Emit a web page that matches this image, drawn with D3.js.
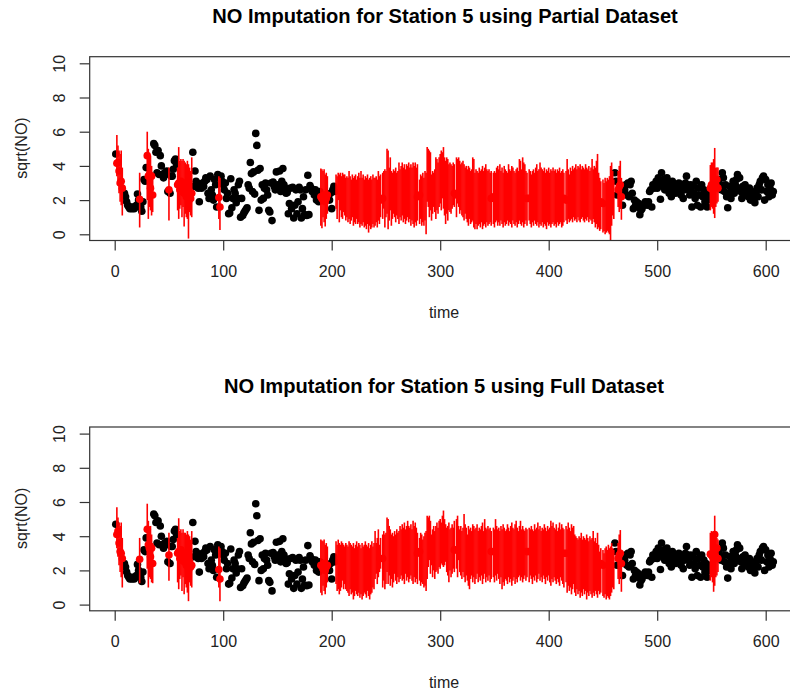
<!DOCTYPE html>
<html>
<head>
<meta charset="utf-8">
<script src="https://cdnjs.cloudflare.com/ajax/libs/d3/7.8.5/d3.min.js"></script>
<style>
    body { margin: 0; background: #fff; }
    svg { display: block; }
    text { font-family: "Liberation Sans", Arial, sans-serif; fill: #222; }
</style>
</head>
<body>
<div id="chart"></div>
<script>
// observed values, same in both panels
const obsTime = [1,9,10,11,12,13,14,15,16,17,18,19,20,21,22,24,25,26,27,28,29,36,37,38,39,40,41,42,43,44,45,46,47,48,49,
    51,52,53,54,55,56,57,72,73,74,75,76,77,78,79,80,81,82,83,84,85,86,87,88,89,90,91,92,93,94,95,98,99,
    100,101,102,103,104,105,106,107,108,109,110,111,112,113,114,115,116,117,118,119,120,121,122,123,124,125,126,127,128,129,
    130,131,132,133,134,135,136,137,138,139,140,141,142,143,144,145,146,147,148,149,150,151,152,153,154,155,156,157,158,159,
    160,161,162,163,164,165,166,167,168,169,170,171,172,173,174,175,176,177,178,179,180,181,182,183,184,185,186,187,188,189,
    197,198,199,200,201,202,203,461,462,463,468,469,470,471,472,473,474,475,476,477,478,479,480,481,482,483,484,485,486,487,488,489,
    490,491,492,493,494,495,496,497,498,499,500,501,502,503,504,505,506,507,508,509,510,511,512,513,514,515,516,517,518,519,
    520,521,522,523,524,525,526,527,528,529,530,531,532,533,534,535,536,537,538,539,540,541,542,543,544,545,546,547,548,
    557,558,559,560,561,562,563,564,565,566,567,568,569,570,571,572,573,574,575,576,577,578,579,
    580,581,582,583,584,585,586,587,588,589,590,591,592,593,594,595,596,597,598,599,600,601,602,603,604,605,606,607];
const obsValue = [4.7,2.4,2.2,1.9,1.7,1.6,1.5,1.6,1.5,1.6,1.5,1.6,1.7,2.35,2.0,1.6,1.35,1.9,3.2,3.1,3.9,5.3,5.2,4.8,3.6,4.9,3.5,4.6,4.0,3.5,3.3,3.6,3.5,3.7,2.5,
    2.4,3.4,3.4,3.8,4.3,4.4,4.1,4.8,2.8,3.7,3.1,3.0,2.7,1.9,2.9,2.7,3.0,2.8,3.1,3.3,3.2,2.4,2.1,3.4,2.6,2.3,2.0,3.2,2.9,1.6,3.5,3.4,3.1,
    2.9,2.6,3.0,2.1,2.4,1.2,1.25,3.25,1.55,2.1,2.6,2.4,1.85,2.1,2.9,3.1,1.0,2.1,1.1,1.25,1.35,1.45,1.55,2.9,2.7,4.2,3.55,2.5,3.65,2.35,
    5.9,5.2,3.75,1.4,3.85,2.0,2.9,2.1,2.7,3.0,2.6,2.3,1.4,1.3,3.0,0.8,3.05,2.8,2.6,3.65,2.9,2.65,3.7,2.5,3.1,3.85,2.9,2.7,2.4,2.45,
    1.2,1.8,2.7,1.5,2.75,0.95,1.7,2.6,1.2,1.9,2.75,2.6,0.95,1.5,2.2,1.15,2.6,1.1,3.45,1.15,2.85,2.7,2.5,2.6,2.3,2.6,2.0,2.2,1.9,2.5,
    2.3,2.0,2.4,1.5,2.6,2.8,2.5,3.6,3.1,2.3,1.7,2.5,2.6,2.9,2.3,3.0,2.2,2.9,3.1,2.4,1.5,2.0,1.7,1.9,1.6,1.8,1.15,1.4,1.5,1.7,1.7,1.9,
    1.8,1.7,1.9,2.5,2.6,1.6,2.9,2.7,2.85,3.1,2.7,3.3,3.0,2.05,3.6,2.8,3.2,2.6,3.0,3.3,2.7,2.4,2.9,2.2,3.1,2.6,2.9,2.4,2.8,2.5,
    3.0,2.7,2.3,2.8,2.1,2.6,3.0,3.4,2.9,2.6,2.3,2.9,1.6,2.8,2.4,2.1,3.1,1.7,2.7,2.3,1.6,2.9,2.2,2.6,1.9,2.4,1.6,2.0,2.3,
    3.2,2.9,2.6,3.6,3.3,2.5,2.9,2.2,1.55,2.4,2.8,2.1,2.6,3.1,2.4,2.9,3.2,3.5,2.7,3.3,2.5,2.1,2.8,
    2.4,2.9,2.3,2.6,2.2,2.7,2.0,2.5,2.1,2.3,1.85,2.4,2.7,2.2,2.9,3.1,2.6,3.3,3.4,2.0,3.2,2.5,2.9,2.2,2.7,3.0,2.3,2.5];

// sparse imputed runs, same times in both panels
const sparseTime = [2,3,4,5,6,7,23,30,31,32,33,34,35,50,58,59,60,61,62,63,64,65,66,67,68,69,70,71,96,97,
    190,191,192,193,194,195,196,464,465,466,467,549,550,551,552,553,554,555,556];
const sparseLowPartial = [3.4,2.9,2.4,1.9,1.7,1.1,0.4,2.0,0.9,1.6,1.4,1.1,1.3,0.8,1.4,0.9,1.5,1.7,1.0,1.6,0.45,1.2,1.0,0.9,-0.25,1.3,1.1,1.0,0.9,0.25,
    0.5,0.35,1.0,0.7,0.45,0.9,1.2,1.6,1.3,1.5,0.85,1.4,1.6,1.5,1.2,0.95,1.6,1.8,1.9];
const sparseHighPartial = [5.8,5.2,4.9,4.7,4.9,3.9,3.6,6.0,5.0,4.6,4.6,4.0,3.5,3.9,3.9,5.1,4.3,4.4,4.3,4.4,4.3,4.2,4.1,4.3,4.1,3.9,3.7,4.5,3.4,3.3,
    3.85,3.8,3.7,3.8,3.5,3.6,3.4,3.7,4.0,4.3,3.3,4.05,4.2,4.2,4.4,5.05,3.9,3.9,3.9];
const sparseLowFull = [3.3,2.8,2.3,1.9,1.6,1.0,1.25,2.1,1.0,1.6,1.5,1.3,1.25,1.4,1.3,0.9,1.5,1.7,0.8,1.6,0.6,1.2,1.0,0.7,0.2,1.3,1.1,1.0,1.0,0.2,
    0.7,0.55,1.1,0.8,0.6,1.0,1.3,1.5,1.2,1.6,0.75,1.4,1.6,1.3,0.75,1.1,1.6,1.7,1.9];
const sparseHighFull = [5.7,5.1,4.8,4.6,4.8,3.9,3.9,5.9,4.9,4.5,4.6,4.1,3.6,4.2,3.9,5.05,4.3,4.4,4.2,4.4,4.2,4.2,4.1,4.3,4.1,4.0,3.8,4.3,3.4,3.3,
    3.8,3.75,3.7,3.8,3.5,3.6,3.4,3.6,4.1,4.36,3.2,4.2,4.3,4.0,3.9,5.2,4.0,3.9,3.8];
const sparseDotPartial = [4.15,4.2,3.7,3.0,3.1,2.7,2.05,4.6,3.4,3.5,2.7,3.4,2.3,2.6,2.9,3.0,2.6,3.1,2.5,2.9,2.4,3.0,2.2,2.7,1.9,2.5,2.1,2.4,2.15,1.6,
    2.2,2.1,2.0,2.3,1.9,2.1,2.3,2.6,2.8,2.9,2.2,2.7,2.9,2.6,2.8,3.0,2.9,3.2,2.7];
const sparseDotFull = [4.1,4.3,3.6,3.1,3.0,2.7,2.65,4.4,3.5,3.3,2.8,3.3,2.4,2.9,3.0,3.1,2.7,3.2,2.6,3.0,2.5,2.9,2.3,2.6,2.0,2.5,2.2,2.3,2.05,1.5,
    2.3,2.25,2.1,2.4,2.0,2.2,2.3,2.7,2.9,3.0,2.4,2.95,2.9,2.8,3.0,4.1,2.8,3.3,2.7];

// long run of imputed times 204 to 460, null where the line is absent
const denseStart = 204;
const denseHighPartial = [3.5,3.4,3.6,3.5,3.6,3.4,3.6,3.5,3.5,3.3,
    3.4,3.3,3.7,3.4,3.2,3.5,3.3,3.4,3.5,3.2, 3.4,3.6,3.3,3.7,3.3,3.5,3.2,3.4,3.3,3.5,
    3.2,3.3,3.4,3.2,3.5,3.3,3.3,3.4,3.2,3.7, 3.4,3.5,null,3.6,3.7,3.8,3.7,5.0,4.9,3.9,
    4.5,3.7,3.6,3.8,3.7,3.9,3.6,3.7,4.2,3.8, 4.0,4.2,3.9,4.1,3.8,4.1,4.0,4.2,3.9,4.1,
    3.9,4.2,4.0,4.2,3.9,4.1,null,3.2,3.5,3.4, 3.6,3.3,3.7,3.6,5.1,5.0,4.9,4.8,3.5,3.7,
    3.6,3.8,4.5,4.4,4.2,4.5,4.7,4.9,4.8,5.1, 4.5,4.3,4.5,4.4,4.1,4.2,4.1,4.0,4.2,4.1,
    null,4.5,4.4,4.5,4.3,4.1,4.2,4.3,4.1,3.9, 4.0,3.8,4.0,3.9,3.7,3.8,4.5,4.4,3.6,3.8,
    3.7,3.6,3.9,3.7,3.8,4.0,3.7,3.9,4.1,3.8, 3.7,3.8,3.6,3.7,null,3.6,3.7,3.6,3.9,4.0,
    3.8,4.1,3.7,3.9,3.6,4.0,3.8,3.7,3.6,4.1, 3.8,3.7,4.0,3.9,3.7,3.6,3.8,3.9,3.7,4.4,
    4.3,3.8,4.5,4.2,4.1,3.7,3.6,null,3.8,3.7, 3.5,3.7,3.8,3.6,3.9,4.1,3.7,3.8,4.2,3.9,
    3.8,3.7,3.9,3.6,3.8,3.7,3.9,3.6,3.8,3.7, 3.9,3.7,3.8,3.6,3.8,3.7,3.9,3.6,3.7,3.8,
    3.6,null,3.7,4.4,3.8,3.5,3.9,3.7,4.0,3.8, 3.9,4.1,3.8,4.0,3.9,4.1,3.8,4.0,3.9,3.8,
    4.1,3.9,3.8,4.0,3.7,3.9,4.4,3.8,4.0,3.9, 4.3,4.7,3.6,3.3,3.1,null,3.2,3.0,3.3,3.1,
    3.3,3.2,3.4,4.0,4.2,3.7,3.2];
const denseLowPartial = [1.5,0.9,2.0,0.7,1.4,1.0,0.9,1.3,1.1,0.8,
    1.0,0.7,0.9,0.6,0.8,1.0,0.5,0.7,0.6,0.9, 0.6,0.7,0.4,0.6,0.5,0.7,0.4,0.5,0.3,0.6,
    0.1,0.5,0.3,0.4,0.6,0.4,0.5,0.7,0.4,0.8, 0.6,1.0,null,0.9,1.5,0.4,1.0,1.2,0.3,0.8,
    1.4,0.5,0.9,1.2,1.0,0.7,1.1,0.9,0.6,1.0, 0.8,1.1,0.7,0.9,0.6,0.8,1.0,0.7,0.9,0.5,
    0.8,0.6,0.4,0.7,0.5,0.8,null,0.6,0.9,0.5, 0.7,0.5,0.8,0.0,1.9,1.6,1.0,1.4,0.8,1.2,
    1.6,1.3,0.9,1.4,1.2,1.6,1.8,1.4,2.1,1.5, 1.1,0.6,1.2,0.8,1.4,1.3,1.2,1.5,1.7,1.6,
    null,1.0,1.8,1.6,1.2,1.4,1.1,1.0,0.8,1.2, 0.9,0.7,0.5,0.9,0.6,0.7,0.8,0.4,0.3,0.6,
    0.3,0.5,0.6,0.4,0.7,0.3,0.5,0.6,0.4,0.7, 0.5,0.6,0.7,0.5,null,0.6,0.4,0.7,0.8,0.5,
    0.7,0.5,0.8,0.6,0.4,0.7,0.5,0.6,0.8,0.5, 0.7,0.6,0.4,0.8,0.6,0.5,0.7,0.4,0.6,0.8,
    0.6,0.5,0.7,0.4,0.6,0.8,0.5,null,0.8,0.6, 0.4,0.7,0.5,0.8,0.6,0.5,0.7,0.4,0.6,0.5,
    0.7,0.4,0.6,0.5,0.3,0.7,0.5,0.6,0.4,0.6, 0.7,0.5,0.6,0.4,0.7,0.5,0.6,0.7,0.4,0.5,
    0.7,null,0.8,0.6,0.9,0.7,0.8,0.9,0.7,1.0, 0.8,0.9,0.7,1.0,0.8,0.7,0.9,1.0,0.8,0.7,
    0.9,0.8,1.0,0.7,0.9,0.8,0.6,0.9,0.7,0.4, 0.6,0.3,0.4,0.2,0.3,null,0.1,0.2,0.0,0.1,
    0.2,0.1,0.0,-0.35,0.5,1.1,0.9];
const denseHighFull = [3.7,3.5,3.8,3.6,3.5,3.7,3.6,3.5,3.4,3.6,
    3.5,3.4,3.7,3.6,3.5,3.4,3.6,3.3,3.5,3.7, 3.4,3.6,3.5,3.3,3.6,3.4,3.5,3.7,3.5,3.4,
    3.6,3.3,3.5,3.7,3.4,3.6,4.3,3.6,3.9,4.4, 3.5,3.9,null,4.1,4.3,4.1,4.2,5.1,5.0,4.6,
    4.4,4.1,4.2,4.0,4.3,4.1,4.4,4.2,4.3,4.6, 4.4,4.7,4.5,4.8,4.4,4.6,4.9,4.6,4.5,4.7,
    4.4,4.9,4.6,4.8,4.5,4.2,null,3.9,4.2,4.1, 3.8,4.0,4.2,4.3,5.2,5.1,5.2,4.9,4.1,4.4,
    4.6,4.3,4.6,4.8,4.5,4.9,5.0,4.8,5.2,5.5, 5.0,4.7,4.5,4.6,4.8,4.4,4.5,4.7,4.5,4.9,
    null,5.0,5.2,4.6,4.4,4.6,4.3,4.5,5.3,4.7, 4.5,4.1,4.6,4.4,4.5,4.3,4.7,4.6,4.4,4.5,
    4.7,4.3,4.5,4.4,4.6,4.8,4.3,5.0,4.5,4.4, 4.6,4.4,4.5,4.3,null,4.5,4.4,5.0,4.6,4.4,
    4.5,4.3,4.6,4.4,4.7,4.5,4.3,4.4,4.7,4.5, 4.3,4.6,4.8,4.5,4.4,4.7,4.9,4.5,4.3,4.6,
    4.9,4.4,4.6,4.4,4.3,4.5,4.4,null,4.5,4.4, 4.6,4.4,4.3,4.7,4.4,4.5,4.8,4.4,4.6,4.3,
    4.5,4.4,4.7,4.5,4.3,4.6,4.4,4.5,4.9,4.6, 4.8,4.5,4.4,4.7,4.3,4.5,4.8,4.4,4.7,4.5,
    4.4,null,4.6,4.4,4.8,4.5,4.3,4.7,4.5,4.6, 4.1,4.0,3.9,3.8,4.0,3.9,4.2,3.8,4.0,3.9,
    3.8,4.1,3.9,3.7,4.0,3.8,3.9,4.3,3.7,3.9, 3.6,4.2,3.5,3.1,3.3,null,3.2,3.0,3.3,3.4,
    3.2,3.5,3.3,3.4,3.6,3.3,3.2];
const denseLowFull = [1.2,0.8,0.9,0.6,0.8,1.0,1.4,0.9,1.2,0.9,
    0.8,0.7,0.5,0.9,0.6,0.7,0.3,0.5,0.8,0.6, 0.5,0.7,0.4,0.6,0.3,0.5,0.7,0.6,0.4,0.8,
    0.5,0.3,0.6,0.7,1.0,0.9,1.5,1.8,1.2,1.6, 1.9,2.1,null,1.0,1.4,0.9,1.2,1.9,1.2,1.7,
    1.1,1.5,1.0,1.3,1.8,1.4,1.2,1.6,1.3,1.5, 1.7,1.4,1.5,1.2,1.8,1.4,1.6,1.3,1.5,1.7,
    1.4,1.2,1.6,1.3,1.5,1.2,null,1.4,1.1,1.3, 1.2,1.0,1.1,0.8,1.5,2.2,2.6,1.8,2.3,1.6,
    2.0,1.5,1.9,2.0,1.8,2.2,2.1,2.4,2.3,2.2, 2.3,2.5,1.9,1.7,1.3,2.0,1.6,1.8,2.1,1.9,
    null,2.1,1.6,2.6,1.9,1.7,1.5,1.9,1.6,1.3, 1.7,1.4,1.1,0.9,1.5,1.7,1.3,1.6,1.2,1.5,
    1.8,1.3,1.6,1.4,1.7,1.2,1.5,1.8,1.3,1.6, 1.4,1.7,1.3,1.5,null,1.6,1.3,1.7,1.4,1.8,
    1.5,1.2,1.6,0.9,1.3,1.1,1.5,1.4,1.2,1.6, 1.3,1.5,1.1,1.4,1.6,1.2,1.5,1.3,1.6,1.7,
    1.4,1.6,1.3,1.5,1.7,1.4,1.6,null,1.3,1.7, 1.5,1.2,1.6,1.4,1.7,1.3,1.5,1.8,1.4,1.6,
    1.3,1.7,1.5,1.2,1.6,1.4,1.7,1.3,1.1,1.5, 1.3,1.6,1.4,1.2,1.5,1.3,1.1,1.6,1.4,1.2,
    1.0,null,1.3,0.7,1.1,0.8,1.0,0.6,0.9,1.2, 0.7,0.5,0.9,0.6,0.8,0.4,0.7,0.5,0.9,0.6,
    0.8,0.3,0.7,0.5,0.8,0.6,0.4,0.7,0.5,0.8, 0.6,0.4,0.8,0.6,0.7,null,0.5,0.4,0.6,0.3,
    0.5,0.4,0.3,0.5,0.7,1.0,0.9];

// a few estimates visible through the gaps of the long run
const denseDotTime = [245,247,279,281,313,315,347,349,380,382,414,416,448,450];
const denseDotPartial = [2.0,2.1,2.2,2.3,2.4,2.3,2.1,2.2,2.1,2.1,2.1,2.0,1.9,1.8];
const denseDotFull = [2.7,2.7,3.0,3.1,3.2,3.2,3.1,3.1,3.1,3.1,3.0,3.0,2.4,2.3];

const xTicks = [0, 100, 200, 300, 400, 500, 600];
const yTicks = [0, 2, 4, 6, 8, 10];

const width = 790;
const height = 695;
const axisColor = "#333";

const svg = d3.select("#chart").append("svg")
    .attr("width", width)
    .attr("height", height);

const x = d3.scaleLinear().domain([0, 600]).range([114.7, 765.7]);

function drawPanel(offset, title, titleX, sparseLow, sparseHigh, sparseDot, denseLow, denseHigh, denseDot) {
    const y = d3.scaleLinear().domain([0, 10]).range([234.3 + offset, 63.3 + offset]);
    const g = svg.append("g");
    const boxTop = 56.7 + offset;
    const boxBottom = 240.5 + offset;

    // black observations first, the imputed lines go on top
    g.selectAll(".obs")
        .data(obsTime)
        .enter()
        .append("circle")
        .attr("class", "obs")
        .attr("cx", (d) => x(d))
        .attr("cy", (d, i) => y(obsValue[i]))
        .attr("r", 3.8)
        .attr("fill", "#000");

    const segments = sparseTime.map((t, i) => ({ t: t, low: sparseLow[i], high: sparseHigh[i] }));
    denseLow.forEach((low, i) => {
        if (low !== null) segments.push({ t: denseStart + i, low: low, high: denseHigh[i] });
    });

    g.selectAll(".ci")
        .data(segments)
        .enter()
        .append("line")
        .attr("class", "ci")
        .attr("x1", (d) => x(d.t))
        .attr("x2", (d) => x(d.t))
        .attr("y1", (d) => y(d.low))
        .attr("y2", (d) => y(d.high))
        .attr("stroke", "#f00")
        .attr("stroke-width", 1.6);

    const dots = sparseTime.map((t, i) => ({ t: t, v: sparseDot[i] }))
        .concat(denseDotTime.map((t, i) => ({ t: t, v: denseDot[i] })));

    g.selectAll(".imp")
        .data(dots)
        .enter()
        .append("circle")
        .attr("class", "imp")
        .attr("cx", (d) => x(d.t))
        .attr("cy", (d) => y(d.v))
        .attr("r", 3.8)
        .attr("fill", "#f00");

    // box runs past the right edge of the picture
    g.append("rect")
        .attr("x", 89.7)
        .attr("y", boxTop)
        .attr("width", width)
        .attr("height", boxBottom - boxTop)
        .attr("fill", "none")
        .attr("stroke", axisColor)
        .attr("stroke-width", 1.2);

    const xAxis = g.append("g")
        .attr("transform", "translate(0," + boxBottom + ")")
        .call(d3.axisBottom(x).tickValues(xTicks).tickFormat(d3.format("d")).tickSize(10).tickSizeOuter(0).tickPadding(15));
    const yAxis = g.append("g")
        .attr("transform", "translate(89.7,0)")
        .call(d3.axisLeft(y).tickValues(yTicks).tickFormat(d3.format("d")).tickSize(10).tickSizeOuter(0));

    [xAxis, yAxis].forEach((a) => {
        a.select(".domain").attr("stroke", axisColor).attr("stroke-width", 1.2).attr("opacity", 0);
        a.selectAll(".tick line").attr("stroke", axisColor).attr("stroke-width", 1.2);
        a.selectAll("text").style("font-size", "16px").style("font-family", "Liberation Sans");
    });

    yAxis.selectAll(".tick text")
        .attr("x", 0)
        .attr("dy", 0)
        .attr("transform", "translate(-25,0) rotate(-90)")
        .style("text-anchor", "middle");

    g.append("text")
        .attr("x", titleX)
        .attr("y", 23 + offset)
        .attr("text-anchor", "middle")
        .style("font-size", "20.1px")
        .style("font-weight", "bold")
        .style("fill", "#000")
        .text(title);

    g.append("text")
        .attr("x", 444)
        .attr("y", 317.5 + offset)
        .attr("text-anchor", "middle")
        .style("font-size", "16px")
        .text("time");

    g.append("text")
        .attr("transform", "translate(27," + (148 + offset) + ") rotate(-90)")
        .attr("text-anchor", "middle")
        .style("font-size", "16px")
        .text("sqrt(NO)");
}

drawPanel(0, "NO Imputation for Station 5 using Partial Dataset", 445,
    sparseLowPartial, sparseHighPartial, sparseDotPartial, denseLowPartial, denseHighPartial, denseDotPartial);
drawPanel(370.3, "NO Imputation for Station 5 using Full Dataset", 444,
    sparseLowFull, sparseHighFull, sparseDotFull, denseLowFull, denseHighFull, denseDotFull);
</script>
</body>
</html>
